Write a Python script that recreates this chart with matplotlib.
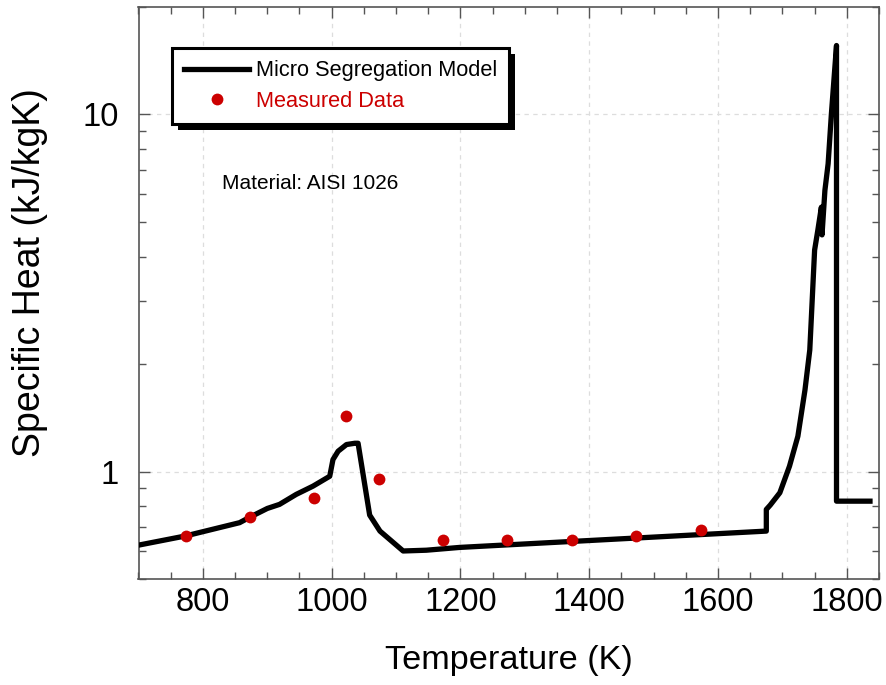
import matplotlib
matplotlib.use("Agg")
import matplotlib.pyplot as plt
from matplotlib.ticker import LogLocator, FixedLocator, FuncFormatter, NullFormatter, MultipleLocator
from matplotlib.patches import Rectangle
from matplotlib.transforms import IdentityTransform

plt.rcParams['font.family'] = ['Liberation Sans', 'DejaVu Sans']

# Model curve (Temperature K, specific heat kJ/kgK)
model_T = [700, 773, 857, 873, 900, 919, 945, 971, 997, 1002, 1010, 1023, 1036, 1041,
           1059, 1075, 1111, 1147, 1199, 1675, 1675, 1681, 1696, 1711, 1724, 1735, 1742.5,
           1745, 1748, 1750, 1755, 1760.5, 1761.5, 1766, 1771, 1776, 1784, 1784, 1836]
model_cp = [0.622, 0.660, 0.719, 0.745, 0.788, 0.809, 0.863, 0.910, 0.970, 1.08, 1.14, 1.19, 1.20, 1.20,
            0.755, 0.681, 0.599, 0.602, 0.613, 0.681, 0.783, 0.805, 0.872, 1.035, 1.255, 1.69, 2.19,
            2.71, 3.51, 4.17, 4.74, 5.5, 4.6, 6.13, 7.28, 10.0, 15.6, 0.826, 0.826]

# Measured data
meas_T = [773, 873, 973, 1023, 1073, 1173, 1273, 1373, 1473, 1573]
meas_cp = [0.660, 0.745, 0.842, 1.427, 0.954, 0.643, 0.643, 0.643, 0.660, 0.684]

fig = plt.figure(figsize=(8.86, 6.85), dpi=100)
ax = fig.add_axes([138.5/886, 1-579/685, (879-138.5)/886, (579-7)/685])

red = '#cc0000'
line, = ax.plot(model_T, model_cp, color='black', lw=3.8, solid_joinstyle='round', zorder=3,
                label='Micro Segregation Model')
pts, = ax.plot(meas_T, meas_cp, 'o', color=red, ms=8.5, mec='none', zorder=4, label='Measured Data')

ax.set_yscale('log')
ax.set_xlim(700, 1850)
ax.set_ylim(0.5, 20)

ax.xaxis.set_major_locator(FixedLocator([800, 1000, 1200, 1400, 1600, 1800]))
ax.xaxis.set_minor_locator(MultipleLocator(50))
ax.yaxis.set_major_locator(FixedLocator([1, 10]))
ax.yaxis.set_major_formatter(FuncFormatter(lambda v, p: '%g' % v))
ax.yaxis.set_minor_locator(LogLocator(base=10, subs=[2, 3, 4, 5, 6, 7, 8, 9]))
ax.yaxis.set_minor_formatter(NullFormatter())

spine_c = '#555555'
for s in ax.spines.values():
    s.set_color(spine_c)
    s.set_linewidth(1.2)
ax.tick_params(which='both', direction='in', top=True, right=True, color=spine_c, width=1.0)
ax.tick_params(which='major', length=8, labelsize=23.5)
ax.tick_params(which='minor', length=5)
ax.tick_params(axis='x', which='major', pad=6)
ax.tick_params(axis='y', which='major', pad=14)

ax.grid(True, which='major', color='#dddddd', linestyle=(0, (3.5, 3.5)), linewidth=0.9)
ax.set_axisbelow(True)

ax.set_xlabel('Temperature (K)', fontsize=24.7, labelpad=19)
ax.set_ylabel('Specific Heat (kJ/kgK)', fontsize=27, va='center')
ax.yaxis.set_label_coords((30 - 138.5) / 740.5, (579 - 273) / 572)

ax.text(0.1124, 0.692, 'Material: AISI 1026', transform=ax.transAxes, fontsize=15,
        ha='left', va='center')

leg = ax.legend(loc='upper left', bbox_to_anchor=(0.045, 0.928), borderaxespad=0,
                fontsize=15.7, fancybox=False, framealpha=1, edgecolor='black',
                handlelength=3.0, handletextpad=0.3, labelspacing=0.45, borderpad=0.55)
leg.get_frame().set_linewidth(2.2)
leg.set_zorder(10)
leg.get_texts()[1].set_color(red)

fig.canvas.draw()
bb = leg.get_window_extent()
shadow = Rectangle((bb.x0 + 6, bb.y0 - 6), bb.width, bb.height, transform=IdentityTransform(),
                   facecolor='black', edgecolor='none', zorder=9)
ax.add_artist(shadow)

fig.savefig('out.png', dpi=100)
